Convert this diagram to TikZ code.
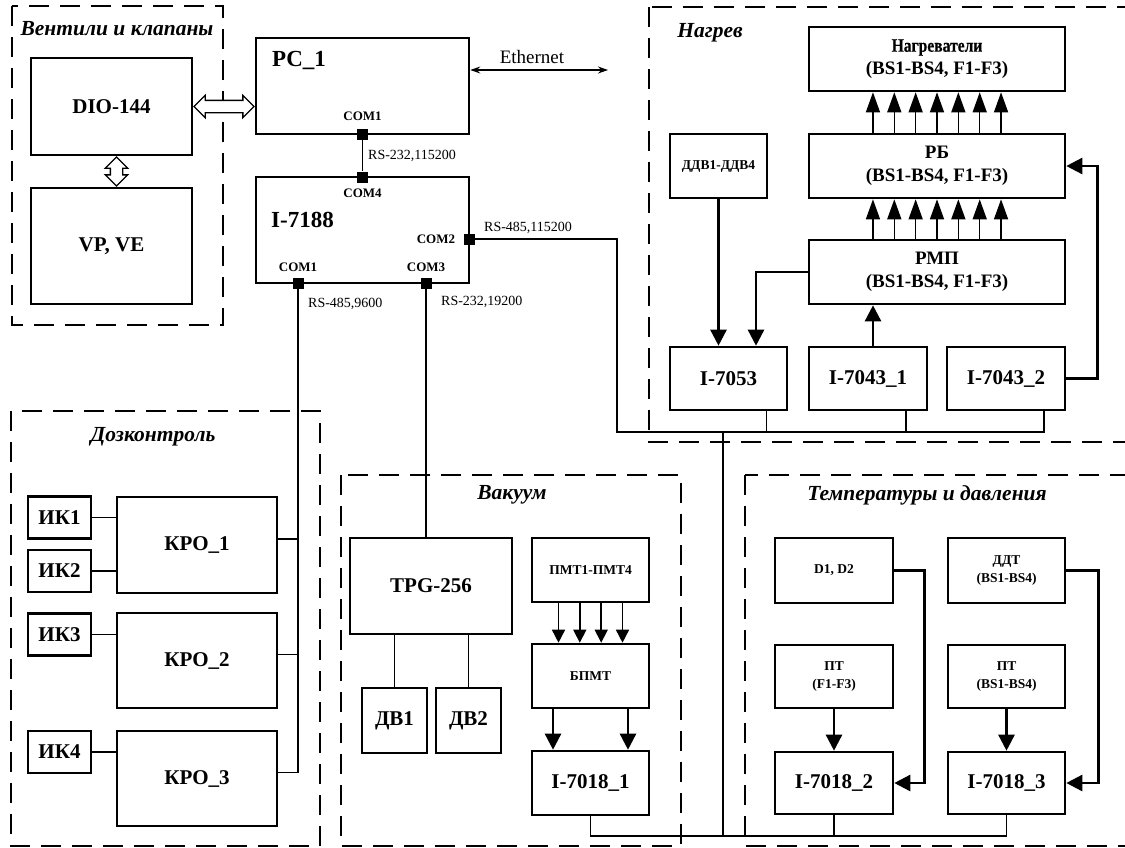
\documentclass[tikz,border=0pt]{standalone}
\usepackage{fontspec}
\setmainfont{Liberation Serif}
\newfontfamily\narrowserif[FakeStretch=0.82, FakeBold=0.4]{Liberation Serif}
\usetikzlibrary{positioning,arrows.meta,shapes.arrows,calc}

\begin{document}
\begin{tikzpicture}[x=1pt, y=-1pt,
  every node/.style={inner sep=0pt},
  box/.style={draw, line width=2.6pt, align=center, font=\fontsize{21}{24}\selectfont\bfseries},
  midbox/.style={box, font=\fontsize{19}{23}\selectfont\bfseries},
  smallbox/.style={box, font=\fontsize{13.5}{18.5}\selectfont\bfseries},
  group/.style={draw, line width=1.8pt, dash pattern=on 20pt off 11pt},
  grouptitle/.style={font=\fontsize{21.5}{24}\selectfont\bfseries\itshape},
  port/.style={fill=black, minimum size=11pt},
  portlabel/.style={font=\fontsize{13}{15}\selectfont\bfseries},
  rs/.style={anchor=west, font=\fontsize{14}{16}\selectfont},
  wire/.style={line width=1.1pt},
  thickarr/.style={line width=2.5pt, -{Triangle[length=16pt, width=16pt]}},
  medarr/.style={line width=1.4pt, -{Triangle[length=20pt, width=14pt]}},
  thinarr/.style={line width=1.5pt, -{Triangle[length=13pt, width=13pt]}},
  hollow/.style={double arrow, draw, fill=white, line width=1.4pt, inner sep=5.5pt,
    double arrow head extend=5pt, double arrow head indent=0pt}]
\useasboundingbox (0,0) rectangle (1125,847);

% dashed groups
\draw[group] (12,6) rectangle (223,325);
\node[grouptitle] (tValves) at (117,29) {Вентили и клапаны};
\draw[group] (649,7) rectangle (1140,442);
\node[grouptitle] (tHeat) at (710,33) {Нагрев};
\draw[group] (11,411) rectangle (320,846);
\node[grouptitle] (tDose) at (153,437) {Дозконтроль};
\draw[group] (341,475) rectangle (681,846);
\node[grouptitle] (tVac) at (512,495) {Вакуум};
\draw[group] (745,475) rectangle (1140,846);
\node[grouptitle] (tTemp) at (927,495) {Температуры и давления};

% valves and the control computers
\node[box, minimum width=161pt, minimum height=97pt] (dio) at (111.5,106.5) {DIO-144};
\node[box, minimum width=161pt, minimum height=116pt] (vpve) at (111.5,246) {VP, VE};
\node[box, minimum width=213pt, minimum height=96pt] (pc) at (362.5,86) {};
\node[font=\fontsize{23}{26}\selectfont\bfseries, anchor=west] (pcName) at (272,60) {PC\_1};
\node[box, minimum width=213pt, minimum height=106pt] (io) at (362.5,230) {};
\node[font=\fontsize{23}{26}\selectfont\bfseries, anchor=west] (ioName) at (271,220) {I-7188};
\node[hollow, minimum height=60pt] (dioPc) at ($(dio.east)!0.5!(dio.east -| pc.west)$) {};
\node[hollow, minimum height=29pt, rotate=90] (dioVp) at ($(dio.south)!0.5!(vpve.north)+(5,0)$) {};

% ports
\node[port] (pcP) at (362.5,134) {};
\node[port] (ioP4) at (362.5,177) {};
\node[port] (ioP2) at (469,239) {};
\node[port] (ioP1) at (298,283) {};
\node[port] (ioP3) at (426,283) {};
\node[portlabel, above=7pt of pcP] (lpcP) {COM1};
\node[portlabel, below=6pt of ioP4] (lioP4) {COM4};
\node[portlabel, left=8pt of ioP2] (lioP2) {COM2};
\node[portlabel, above=5pt of ioP1] (lioP1) {COM1};
\node[portlabel, above=5pt of ioP3] (lioP3) {COM3};
\node[rs] (rs1) at (368,155.5) {RS-232,115200};
\node[rs] (rs2) at (484,228) {RS-485,115200};
\node[rs] (rs3) at (308,304) {RS-485,9600};
\node[rs] (rs4) at (441,302) {RS-232,19200};
\draw[wire] (pcP) -- (ioP4);

% ethernet
\coordinate (eth) at (608,70);
\draw[wire, {Stealth[length=10pt, width=7pt]}-{Stealth[length=10pt, width=7pt]}] (pc.east |- eth) -- (eth);
\node[font=\fontsize{19}{21}\selectfont] (ethLabel) at (532,57) {Ethernet};

% heating
\node[midbox, minimum width=256pt, minimum height=64pt] (heaters) at (937,59) {{\narrowserif Нагреватели}\\(BS1-BS4, F1-F3)};
\node[midbox, minimum width=256pt, minimum height=64pt] (rb) at (937,166) {РБ\\(BS1-BS4, F1-F3)};
\node[midbox, minimum width=256pt, minimum height=64pt] (rmp) at (937,272) {РМП\\(BS1-BS4, F1-F3)};
\node[smallbox, minimum width=97pt, minimum height=64pt] (ddv) at (718.5,166) {ДДВ1-ДДВ4};
\node[box, minimum width=117pt, minimum height=63pt] (i7053) at (728.5,378.5) {I-7053};
\node[box, minimum width=118pt, minimum height=63pt] (i7043a) at (868,378.5) {I-7043\_1};
\node[box, minimum width=118pt, minimum height=63pt] (i7043b) at (1006,378.5) {I-7043\_2};
\foreach \i in {-3,...,3} {
  \draw[medarr] ([xshift=\i*21.35]rmp.north) -- ([xshift=\i*21.35]rb.south);
  \draw[medarr] ([xshift=\i*21.35]rb.north) -- ([xshift=\i*21.35]heaters.south);
}
\draw[thickarr] (ddv.south) -- (ddv.south |- i7053.north);
\draw[thickarr] (rmp.west) -| ([xshift=27.5]i7053.north);
\draw[thickarr] ([xshift=5]i7043a.north) -- ([xshift=5]i7043a.north |- rmp.south);
\draw[thickarr] (i7043b.east) -- ++(31,0) |- (rb.east);

% RS-485 bus
\coordinate (hbusL) at (617,432);
\coordinate (hbus) at (723,432);
\coordinate (vbus) at (723,836);
\draw[wire] (ioP2) -| (hbusL) -- (hbus);
\foreach \m in {i7053,i7043a,i7043b}
  \draw[wire] ([xshift=38]\m.south) |- (hbus);
\draw[wire] (hbus) -- (vbus);

% vacuum
\node[box, minimum width=162pt, minimum height=96pt] (tpg) at (431,586) {TPG-256};
\node[box, minimum width=65pt, minimum height=65pt] (dv1) at (394.5,720.5) {ДВ1};
\node[box, minimum width=65pt, minimum height=65pt] (dv2) at (468.5,720.5) {ДВ2};
\node[smallbox, minimum width=117pt, minimum height=64pt] (pmt) at (590.5,570) {ПМТ1-ПМТ4};
\node[smallbox, minimum width=117pt, minimum height=64pt] (bpmt) at (590.5,676) {БПМТ};
\node[box, minimum width=117pt, minimum height=64pt] (i7018a) at (590.5,783) {I-7018\_1};
\draw[wire] (ioP3) -- (ioP3 |- tpg.north);
\draw[wire] (dv1.north) -- (dv1.north |- tpg.south);
\draw[wire] (dv2.north) -- (dv2.north |- tpg.south);
\foreach \dx in {-32,-10.7,10.7,32}
  \draw[thinarr] ([xshift=\dx]pmt.south) -- ([xshift=\dx]bpmt.north);
\foreach \dx in {-37.5,37.5}
  \draw[thickarr] ([xshift=\dx]bpmt.south) -- ([xshift=\dx]i7018a.north);

% temperatures and pressures
\node[smallbox, minimum width=118pt, minimum height=65pt] (d12) at (834,570.5) {D1, D2};
\node[smallbox, minimum width=117pt, minimum height=65pt] (ddt) at (1006.5,570.5) {ДДТ\\(BS1-BS4)};
\node[smallbox, minimum width=118pt, minimum height=63pt] (ptf) at (834,676.5) {ПТ\\(F1-F3)};
\node[smallbox, minimum width=117pt, minimum height=63pt] (ptbs) at (1006.5,676.5) {ПТ\\(BS1-BS4)};
\node[box, minimum width=118pt, minimum height=62pt] (i7018b) at (834,783) {I-7018\_2};
\node[box, minimum width=117pt, minimum height=62pt] (i7018c) at (1006.5,783) {I-7018\_3};
\draw[thickarr] (ptf.south) -- (i7018b.north);
\draw[thickarr] (ptbs.south) -- (i7018c.north);
\draw[thickarr] (d12.east) -- ++(30,0) |- (i7018b.east);
\draw[thickarr] (ddt.east) -- ++(32,0) |- (i7018c.east);
\foreach \m in {i7018a,i7018b,i7018c}
  \draw[wire] (\m.south) |- (vbus);

% dose control
\foreach \n/\y in {1/517.5,2/571,3/634.5,4/752}
  \node[box, minimum width=63pt, minimum height=42pt] (ik\n) at (59.5,\y) {ИК\n};
\node[box, minimum width=160pt, minimum height=96pt] (kro1) at (197,545) {КРО\_1};
\node[box, minimum width=160pt, minimum height=95pt] (kro2) at (197,660.5) {КРО\_2};
\node[box, minimum width=160pt, minimum height=95pt] (kro3) at (197,778.5) {КРО\_3};
\foreach \i/\k in {1/1,2/1,3/2,4/3}
  \draw[wire] (ik\i.east) -- (ik\i.east -| kro\k.west);
\draw[wire] (ioP1) |- ([yshift=6]kro3.east);
\foreach \k in {kro1,kro2}
  \draw[wire] ([yshift=6]\k.east) -- ++(20,0);
\end{tikzpicture}
\end{document}
